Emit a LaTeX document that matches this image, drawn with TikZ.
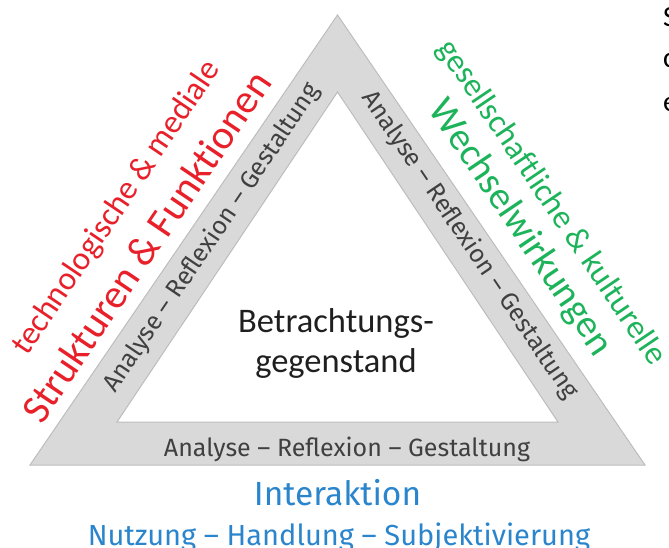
\documentclass[tikz,border=0pt]{standalone}
\usepackage{fontspec}
\setmainfont{Carlito}[Ligatures=NoCommon]
\newfontfamily\fira{Fira Sans}
\definecolor{bandfill}{HTML}{D9D9D9}
\definecolor{bandedge}{HTML}{BDBDBD}
\definecolor{bandtext}{HTML}{404040}
\definecolor{redtxt}{HTML}{E8202A}
\definecolor{greentxt}{HTML}{1DB35A}
\definecolor{bluetxt}{HTML}{2A85CC}
\tikzset{
  bandlabel/.style={inner sep=0pt, text=bandtext, font=\fira\fontsize{25}{30}\selectfont},
  centerlabel/.style={inner sep=0pt, anchor=base, text=black!88, font=\fontsize{34.5}{40}\selectfont},
  sidesmall/.style={inner sep=0pt, font=\fontsize{33}{38}\selectfont},
  sidelarge/.style={inner sep=0pt, font=\fontsize{41}{48}\selectfont},
  bottomlabel/.style={inner sep=0pt, anchor=base, text=bluetxt},
  cutletter/.style={inner sep=0pt, anchor=base west, font=\fontsize{29}{34}\selectfont}
}
\begin{document}
\begin{tikzpicture}[x=1pt,y=-1pt]
\useasboundingbox (0,0) rectangle (669,548);
\clip (0,0) rectangle (669,548);
% triangle corners
\coordinate (oL) at (30,465);
\coordinate (oT) at (337.5,15);
\coordinate (oR) at (645,465);
\coordinate (iL) at (117,422);
\coordinate (iT) at (337.5,92);
\coordinate (iR) at (558,422);
\path[fill=bandfill, draw=bandedge, line width=1pt, even odd rule, line join=miter]
  (oL) -- (oT) -- (oR) -- cycle (iL) -- (iT) -- (iR) -- cycle;
% band labels
\node[bandlabel, anchor=base] (bandB) at (347,456) {Analyse – Reflexion – Gestaltung};
\node[bandlabel, rotate=56] (bandL) at (212,238) {Analyse – Reflexion – Gestaltung};
\node[bandlabel, rotate=-56] (bandR) at (470,245) {Analyse – Reflexion – Gestaltung};
% centre
\node[centerlabel] (c1) at (336,332) {Betrachtungs-};
\node[centerlabel] (c2) at (336,372) {gegenstand};
% left side
\node[sidesmall, text=redtxt, rotate=56] (redS) at (117,208) {technologische \& mediale};
\node[sidelarge, text=redtxt, rotate=56] (redL) at (146,246) {Strukturen \& Funktionen};
% right side
\node[sidesmall, text=greentxt, rotate=-56] (greenS) at (551,203) {gesellschaftliche \& kulturelle};
\node[sidelarge, text=greentxt, rotate=-56, font=\fontsize{39}{46}\selectfont] (greenL) at (520,228) {Wechselwirkungen};
% bottom
\node[bottomlabel, font=\fira\fontsize{33.5}{38}\selectfont] (inter) at (337.5,505) {Interaktion};
\node[bottomlabel, font=\fira\fontsize{29}{34}\selectfont] (nutz) at (339,545) {Nutzung – Handlung – Subjektivierung};
% cut-off letters at right edge
\node[cutletter] (s1) at (663,27) {S};
\node[cutletter] (s2) at (663,68) {c};
\node[cutletter] (s3) at (663,112) {e};
\end{tikzpicture}
\end{document}
